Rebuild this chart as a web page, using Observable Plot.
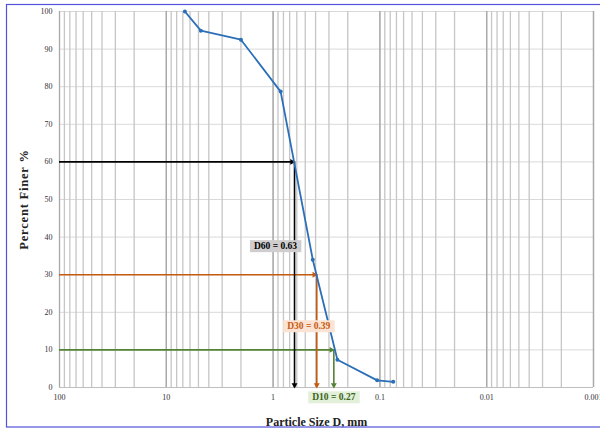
<!DOCTYPE html>
<html>
<head>
<meta charset="utf-8">
<script src="https://cdn.jsdelivr.net/npm/d3@7"></script>
<script src="https://cdn.jsdelivr.net/npm/@observablehq/plot@0.6"></script>
<style>
  html, body { margin: 0; padding: 0; background: #fff; overflow: hidden; }
</style>
</head>
<body>
<script>
// Sieve analysis data
const sizes = [6.7, 4.75, 2.0, 0.85, 0.425, 0.25, 0.106, 0.075];
const finer = [100, 94.9, 92.5, 78.7, 34.0, 7.4, 1.9, 1.5];

// Characteristic diameters
const dNames = ["D60", "D30", "D10"];
const dPercents = [60, 30, 10];
const dValues = [0.63, 0.39, 0.27];

// Tick labels
const xTicks = [100, 10, 1, 0.1, 0.01, 0.001];
const yTicks = [0, 10, 20, 30, 40, 50, 60, 70, 80, 90, 100];

// styles
const dColors = ["#000000", "#c55a11", "#548235"];
const dTextColors = ["#000000", "#c55a11", "#3b6320"];
const dBgColors = ["#cfcdcd", "#fbe3d3", "#e2efd9"];

const points = sizes.map((s, i) => ({size: s, finer: finer[i]}));
const dTable = dNames.map((n, i) => ({
  name: n, p: dPercents[i], d: dValues[i],
  label: `${n} = ${dValues[i]}`,
  color: dColors[i], text: dTextColors[i], bg: dBgColors[i]
}));

// log grid lines: 1..9 multiples within each decade (axis ticks)
const gridVals = [];
for (let e = 1; e >= -3; e--) for (let k = 1; k <= 9; k++) gridVals.push(+(k * Math.pow(10, e)).toPrecision(3));

const serif = "'Liberation Serif', 'Times New Roman', serif";

function labelMark(i, yv, dx) {
  return Plot.text([dTable[i]], {
    x: "d", y: () => yv, text: "label", dx,
    fill: "text", fontWeight: "bold", fontSize: 9.5, fontFamily: serif
  });
}

const chart = Plot.plot({
  width: 600,
  height: 428,
  marginLeft: 59,
  marginRight: 7,
  marginTop: 11,
  marginBottom: 41,
  style: {fontFamily: serif, fontSize: "8px", background: "#fff", overflow: "visible"},
  x: {type: "log", domain: [100, 0.001]},
  y: {domain: [0, 100]},
  marks: [
    Plot.ruleY(yTicks, {stroke: "#d9d9d9", strokeWidth: 1}),
    Plot.ruleX(gridVals.filter(v => v <= 100 && v >= 0.001), {stroke: "#c6c6c6", strokeWidth: 1.3, y1: 0, y2: 100}),
    Plot.ruleX(xTicks, {stroke: "#a8a8a8", strokeWidth: 1.3, y1: 0, y2: 100}),
    Plot.ruleY([0], {stroke: "#bfbfbf", strokeWidth: 1.2}),
    Plot.axisX({ticks: xTicks, tickFormat: d => String(d), tickSize: 0, tickPadding: 7, label: null, fontSize: 8, fill: "#333"}),
    Plot.axisY({ticks: yTicks, tickSize: 0, tickPadding: 7, label: null, fontSize: 8, fill: "#333"}),
    // D lines
    Plot.ruleY(dTable, {y: "p", x1: () => 100, x2: "d", stroke: "color", strokeWidth: 1.6}),
    Plot.ruleX(dTable, {x: "d", y1: "p", y2: 0, stroke: "color", strokeWidth: 1.6}),
    Plot.dot(dTable, {x: "d", y: "p", symbol: "triangle", rotate: 90, r: 2.2, fill: "color", stroke: null, dx: -2.5}),
    Plot.dot(dTable, {x: "d", y: () => 0, symbol: "triangle", rotate: 180, r: 2.2, fill: "color", stroke: null, dy: -2.5}),
    // gradation curve
    Plot.line(points, {x: "size", y: "finer", stroke: "#2a6fb8", strokeWidth: 1.8}),
    Plot.dot(points, {x: "size", y: "finer", r: 2, fill: "#2a6fb8", stroke: null}),
    // labels
    labelMark(0, 37.6, -19),
    labelMark(1, 16.3, -8),
    labelMark(2, -2.6, 0),
    // axis titles
    Plot.text(["Percent Finer %"], {frameAnchor: "left", textAnchor: "middle", dx: -36, rotate: -90, fontSize: 12.5, fontWeight: "bold", fontFamily: serif, fill: "#222"}),
    Plot.text(["Particle Size D, mm"], {frameAnchor: "bottom", textAnchor: "middle", dx: -10, dy: 35, lineAnchor: "middle", fontSize: 12, fontWeight: "bold", fontFamily: serif, fill: "#222"})
  ]
});

document.body.append(chart);

// label boxes behind the D labels
d3.select(chart).selectAll("text").each(function() {
  const txt = this.textContent;
  const row = dTable.find(r => r.label === txt);
  if (row) {
    const bb = this.getBBox();
    const rect = document.createElementNS("http://www.w3.org/2000/svg", "rect");
    rect.setAttribute("x", bb.x - 4);
    rect.setAttribute("y", bb.y - 1);
    rect.setAttribute("width", bb.width + 8);
    rect.setAttribute("height", bb.height + 2);
    rect.setAttribute("fill", row.bg);
    const tr = this.getAttribute("transform");
    if (tr) rect.setAttribute("transform", tr);
    this.parentNode.insertBefore(rect, this);
  }
  if (txt === "Percent Finer %") this.style.letterSpacing = "0.8px";
});

// outer blue border
const border = document.createElementNS("http://www.w3.org/2000/svg", "rect");
border.setAttribute("x", 6.5);
border.setAttribute("y", 4.5);
border.setAttribute("width", 620);
border.setAttribute("height", 422.5);
border.setAttribute("fill", "none");
border.setAttribute("stroke", "#5252dd");
border.setAttribute("stroke-width", 1.2);
chart.appendChild(border);
</script>
</body>
</html>
